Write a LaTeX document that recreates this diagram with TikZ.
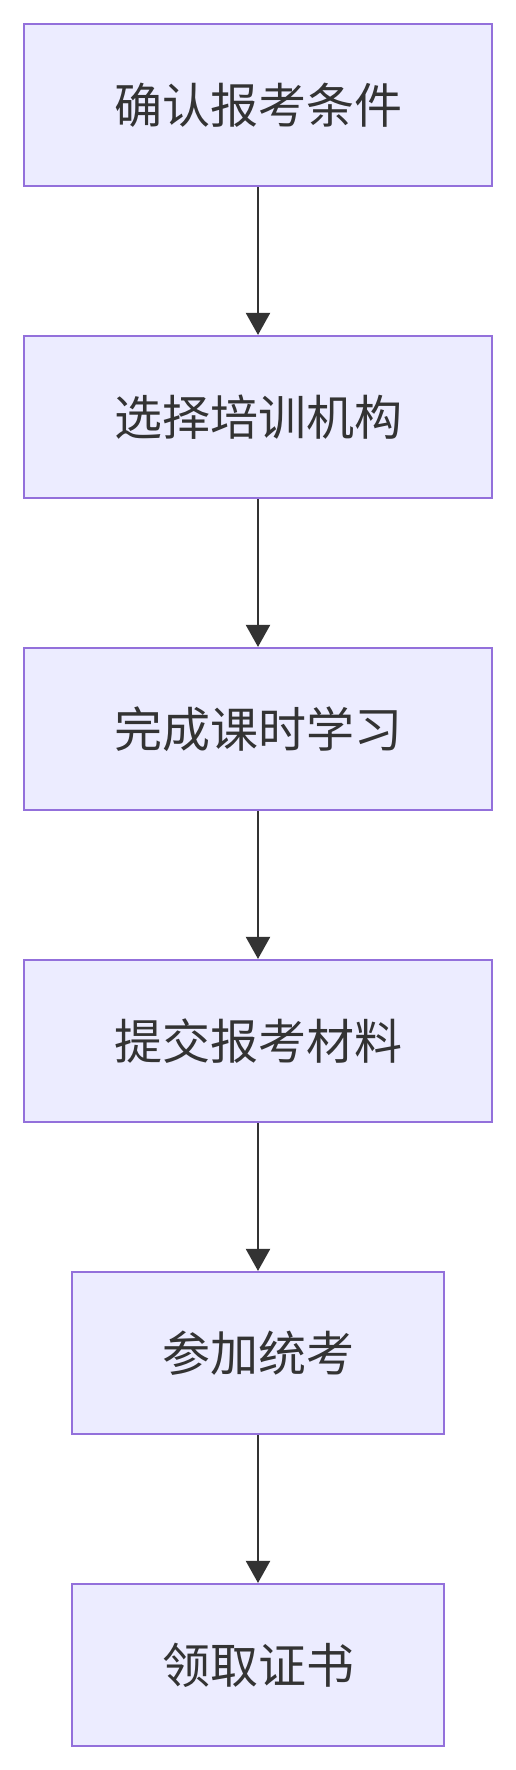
\documentclass[tikz,border=0pt]{standalone}
\usepackage{fontspec}
\newfontfamily\cjk{Noto Sans CJK SC}
\usetikzlibrary{arrows.meta}
\definecolor{boxfill}{HTML}{ECECFF}
\definecolor{boxline}{HTML}{9370DB}
\definecolor{ink}{HTML}{333333}
\tikzset{
  stepbox/.style={rectangle, draw=boxline, fill=boxfill, line width=1.6pt,
    minimum height=121.5pt, text=ink, font=\cjk\fontsize{36}{40}\selectfont},
  widebox/.style={stepbox, minimum width=351pt},
  narrowbox/.style={stepbox, minimum width=279pt},
  flow/.style={-{Triangle[length=16.5pt,width=18pt]}, draw=ink, line width=1.6pt},
}
\begin{document}
\begin{tikzpicture}[x=0.75pt, y=0.75pt]

      \useasboundingbox (0,0) rectangle (516,-1770);

      \node [widebox]    (cond)  at (258,-105)  {确认报考条件};
      \node [widebox]    (org)   at (258,-417)  {选择培训机构};
      \node [widebox]    (hours) at (258,-729)  {完成课时学习};
      \node [widebox]    (docs)  at (258,-1041) {提交报考材料};
      \node [narrowbox]  (exam)  at (258,-1353) {参加统考};
      \node [narrowbox]  (cert)  at (258,-1665) {领取证书};

      \draw [flow] (cond) to (org);
      \draw [flow] (org) to (hours);
      \draw [flow] (hours) to (docs);
      \draw [flow] (docs) to (exam);
      \draw [flow] (exam) to (cert);
    \end{tikzpicture}
\end{document}
